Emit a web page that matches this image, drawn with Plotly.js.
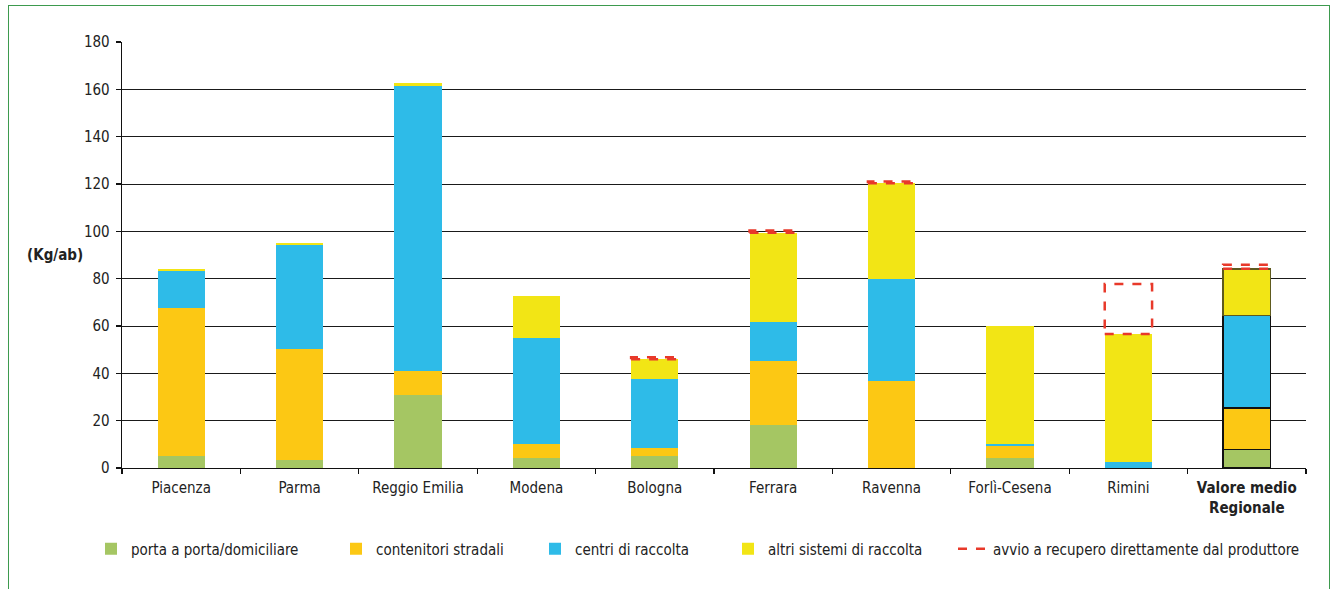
<!DOCTYPE html>
<html>
<head>
<meta charset="utf-8">
<script src="https://cdn.plot.ly/plotly-3.0.1.min.js"></script>
<style>
  html, body { margin: 0; padding: 0; background: #fff; overflow: hidden; }
  #wrap { position: relative; width: 1336px; height: 589px; }
  #chart { width: 1336px; height: 589px; }
  #frame { position: absolute; left: 8px; top: 5px; width: 1322px; height: 620px;
           border: 1.5px solid #3d9a4e; pointer-events: none; box-sizing: border-box; }
</style>
</head>
<body>
<div id="wrap">
  <div id="chart"></div>
  <div id="frame"></div>
</div>
<script>
// ---- data (Kg/ab) ----
const categories = ['Piacenza', 'Parma', 'Reggio Emilia', 'Modena', 'Bologna', 'Ferrara', 'Ravenna', 'Forlì-Cesena', 'Rimini', 'Valore medio Regionale'];
const tickLabels = ['Piacenza', 'Parma', 'Reggio Emilia', 'Modena', 'Bologna', 'Ferrara', 'Ravenna', 'Forlì-Cesena', 'Rimini', '<b>Valore medio<br>Regionale</b>'];
const portaAPorta = [5.0, 3.4, 30.8, 4.2, 5.1, 18.3, 0, 4.2, 0, 7.9];
const contenitoriStradali = [62.6, 46.7, 10.0, 5.9, 3.4, 26.8, 36.6, 5.1, 0, 17.5];
const centriRaccolta = [15.6, 44.0, 120.7, 44.8, 29.0, 16.4, 43.4, 0.8, 2.5, 39.1];
const altriSistemi = [0.9, 1.0, 1.0, 17.6, 8.4, 37.9, 40.3, 49.9, 54.1, 19.7];
const diretto = [0, 0, 0, 0, 0.9, 0.9, 0.8, 0, 21.1, 1.7];
const seriesNames = ['porta a porta/domiciliare', 'contenitori stradali', 'centri di raccolta', 'altri sistemi di raccolta', 'avvio a recupero direttamente dal produttore'];

// ---- styles ----
const FONT = '"Liberation Sans Narrow", "DejaVu Sans Condensed", "Liberation Sans", Arial, sans-serif';
const colors = ['#A5C663', '#FCC814', '#2EBBE8', '#F2E515', '#E8392A'];
const BAR_W = 0.4;
const xIdx = categories.map((_, i) => i);
const lastIdx = categories.length - 1;

function outline(edgeColor) {
  return {
    color: categories.map((_, i) => i === lastIdx ? edgeColor : 'rgba(0,0,0,0)'),
    width: categories.map((_, i) => i === lastIdx ? 1.6 : 0)
  };
}

const stacks = [portaAPorta, contenitoriStradali, centriRaccolta, altriSistemi];
const legendIds = ['legend', 'legend2', 'legend3', 'legend4', 'legend5'];
const traces = stacks.map((vals, k) => ({
  type: 'bar',
  name: seriesNames[k],
  x: xIdx,
  y: vals,
  width: BAR_W,
  marker: { color: colors[k], line: outline(k === 3 ? '#5e5a1e' : '#111') },
  legend: legendIds[k],
  hoverinfo: 'skip'
}));

// dashed boxes for "avvio a recupero direttamente dal produttore", stacked on top
const bx = [], by = [];
categories.forEach((_, i) => {
  if (diretto[i] > 0) {
    const base = portaAPorta[i] + contenitoriStradali[i] + centriRaccolta[i] + altriSistemi[i];
    const top = base + diretto[i];
    const l = i - BAR_W / 2, r = i + BAR_W / 2;
    bx.push(l, r, r, l, l, null);
    by.push(base, base, top, top, base, null);
  }
});
traces.push({
  type: 'scatter',
  mode: 'lines',
  name: seriesNames[4],
  x: bx,
  y: by,
  line: { color: colors[4], width: 2.5, dash: 'dash' },
  legend: 'legend5',
  hoverinfo: 'skip',
  connectgaps: false
});

const H = 1336, V = 589;
function leg(px) {
  return {
    xref: 'container', yref: 'container',
    x: px / H, y: 1 - 549 / V, xanchor: 'left', yanchor: 'middle',
    orientation: 'h', bgcolor: 'rgba(0,0,0,0)', borderwidth: 0,
    font: { family: FONT, size: 15, color: '#222' }
  };
}

const layout = {
  width: 1336, height: 589,
  paper_bgcolor: '#fff', plot_bgcolor: '#fff',
  margin: { l: 122, r: 30, t: 42, b: 121 },
  barmode: 'stack',
  font: { family: FONT, size: 15, color: '#222' },
  showlegend: true,
  legend: leg(91),
  legend2: leg(336),
  legend3: leg(535),
  legend4: leg(728),
  legend5: leg(953),
  xaxis: {
    range: [-0.5, categories.length - 0.5],
    tickmode: 'array', tickvals: xIdx, ticktext: tickLabels,
    ticks: '', showgrid: false, zeroline: false,
    showline: true, linecolor: '#111', linewidth: 1.3,
    ticklabelstandoff: 6,
    tickfont: { family: FONT, size: 15, color: '#222' },
    minor: {
      tickmode: 'array',
      tickvals: categories.map((_, i) => i - 0.5).concat([categories.length - 0.5]),
      ticks: 'outside', ticklen: 5, tickcolor: '#111', tickwidth: 1.2, showgrid: false
    },
    fixedrange: true
  },
  yaxis: {
    range: [0, 180], tickmode: 'linear', tick0: 0, dtick: 20,
    showgrid: true, gridcolor: '#1a1a1a', gridwidth: 1,
    zeroline: false, showline: true, linecolor: '#111', linewidth: 1.3,
    ticks: 'outside', ticklen: 5, tickcolor: '#111', tickwidth: 1.2,
    ticklabelstandoff: 3,
    tickfont: { family: FONT, size: 15, color: '#222' },
    fixedrange: true
  },
  annotations: [{
    text: '<b>(Kg/ab)</b>', xref: 'paper', yref: 'paper',
    x: -0.057, y: 90 / 180, xanchor: 'center', yanchor: 'middle',
    showarrow: false, font: { family: FONT, size: 15, color: '#222' }
  }]
};

Plotly.newPlot('chart', traces, layout, { displayModeBar: false, staticPlot: true });
</script>
</body>
</html>
